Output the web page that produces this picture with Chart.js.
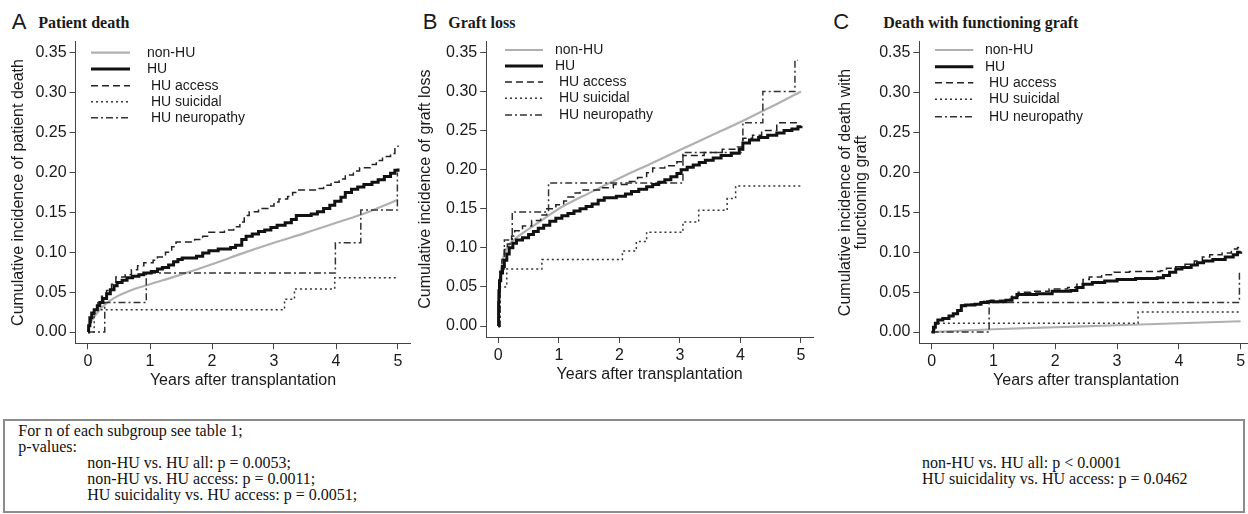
<!DOCTYPE html>
<html>
<head>
<meta charset="utf-8">
<script src="https://cdn.jsdelivr.net/npm/chart.js@4.4.1/dist/chart.umd.min.js"></script>
<style>
  html, body { margin: 0; padding: 0; background: #fff; width: 1248px; height: 514px; overflow: hidden; }
  canvas { position: absolute; top: 0; }
  .letter { position: absolute; top: 10.9px; font: 22px/22px "Liberation Sans", Arial, sans-serif; color: #1a1a1a; }
  .title { position: absolute; top: 15.1px; font: bold 16px/16px "Liberation Serif", "Times New Roman", serif; color: #1a1a1a; white-space: nowrap; }
  #notes {
    position: absolute; left: 3px; top: 419px; width: 1242px; height: 94px; box-sizing: border-box;
    border: 2px solid #8c8c8c; padding: 2.3px 0 0 13.3px;
    font: 16px/16px "Liberation Serif", "Times New Roman", serif; color: #111; white-space: nowrap;
  }
  #notes .ind { margin-left: 69px; }
  #notesRight { position: absolute; left: 917px; top: 34.3px; }
</style>
</head>
<body>
<div class="letter" style="left:11.7px">A</div><div class="title" style="left:38.3px">Patient death</div>
<div class="letter" style="left:422.7px">B</div><div class="title" style="left:448.3px">Graft loss</div>
<div class="letter" style="left:833.3px">C</div><div class="title" style="left:883.3px">Death with functioning graft</div>

<canvas id="chartA" width="416" height="400" style="left:0px"></canvas>
<canvas id="chartB" width="410" height="400" style="left:410px"></canvas>
<canvas id="chartC" width="440" height="400" style="left:820px"></canvas>

<div id="notes">
  <div>For n of each subgroup see table 1;</div>
  <div>p-values:</div>
  <div class="ind">non-HU vs. HU all: p = 0.0053;</div>
  <div class="ind">non-HU vs. HU access: p = 0.0011;</div>
  <div class="ind">HU suicidality vs. HU access: p = 0.0051;</div>
  <div id="notesRight">
    <div>non-HU vs. HU all: p &lt; 0.0001</div>
    <div>HU suicidality vs. HU access: p = 0.0462</div>
  </div>
</div>

<script>
// series labels, same for every panel
const LABELS = ['non-HU', 'HU', ' HU access', ' HU suicidal', ' HU neuropathy'];

// [years, cumulative incidence]
// A - patient death
const A_NONHU = [[0,0],[0.02,0.008],[0.05,0.013],[0.1,0.019],[0.2,0.029],[0.35,0.039],[0.5,0.046],[0.75,0.054],[1,0.06],[1.5,0.072],[2,0.085],[2.5,0.099],[3,0.112],[3.5,0.124],[4,0.137],[4.5,0.15],[5,0.166]];
const A_HU = [[0,0],[0.01,0.008],[0.03,0.018],[0.06,0.024],[0.1,0.028],[0.15,0.033],[0.19,0.037],[0.24,0.042],[0.3,0.048],[0.36,0.053],[0.42,0.058],[0.47,0.062],[0.55,0.065],[0.63,0.068],[0.72,0.07],[0.82,0.072],[0.9,0.074],[1.02,0.076],[1.12,0.079],[1.2,0.081],[1.3,0.084],[1.38,0.088],[1.45,0.091],[1.52,0.093],[1.75,0.095],[1.85,0.099],[1.95,0.102],[2.1,0.104],[2.3,0.106],[2.38,0.109],[2.48,0.116],[2.55,0.12],[2.65,0.123],[2.75,0.126],[2.85,0.128],[2.95,0.131],[3.05,0.134],[3.18,0.137],[3.28,0.141],[3.36,0.146],[3.6,0.148],[3.7,0.151],[3.8,0.155],[3.9,0.159],[3.98,0.164],[4.08,0.169],[4.15,0.175],[4.25,0.179],[4.35,0.182],[4.45,0.185],[4.58,0.188],[4.68,0.191],[4.78,0.195],[4.88,0.199],[4.95,0.203],[5,0.205]];
const A_ACCESS = [[0,0],[0.02,0.012],[0.05,0.022],[0.1,0.03],[0.16,0.038],[0.22,0.045],[0.3,0.052],[0.38,0.06],[0.45,0.069],[0.6,0.072],[0.7,0.078],[0.8,0.083],[0.9,0.087],[1.05,0.09],[1.12,0.094],[1.25,0.1],[1.35,0.107],[1.42,0.113],[1.72,0.116],[1.85,0.12],[1.95,0.125],[2.2,0.128],[2.35,0.132],[2.45,0.138],[2.52,0.146],[2.6,0.151],[2.75,0.155],[2.9,0.158],[3,0.163],[3.08,0.167],[3.22,0.17],[3.3,0.175],[3.4,0.178],[3.7,0.18],[3.8,0.184],[3.92,0.188],[4.05,0.192],[4.15,0.197],[4.28,0.202],[4.38,0.206],[4.55,0.21],[4.65,0.215],[4.75,0.22],[4.88,0.224],[4.95,0.23],[5,0.234]];
const A_SUICIDAL = [[0,0],[0.1,0.028],[3.17,0.041],[3.33,0.054],[3.98,0.068],[4.97,0.068]];
const A_NEURO = [[0,0],[0.27,0.037],[0.94,0.074],[3.99,0.112],[4.4,0.153],[4.99,0.2]];

// B - graft loss
const B_NONHU = [[0,0],[0.005,0.03],[0.02,0.055],[0.05,0.075],[0.1,0.092],[0.2,0.106],[0.3,0.113],[0.5,0.124],[0.75,0.137],[1,0.15],[1.5,0.17],[2,0.189],[2.5,0.207],[3,0.225],[3.5,0.243],[4,0.261],[4.5,0.28],[5,0.3]];
const B_HU = [[0,0],[0.005,0.03],[0.01,0.045],[0.02,0.058],[0.04,0.068],[0.07,0.076],[0.1,0.084],[0.14,0.092],[0.18,0.1],[0.24,0.106],[0.3,0.11],[0.4,0.113],[0.5,0.117],[0.58,0.121],[0.66,0.125],[0.75,0.129],[0.85,0.134],[0.95,0.138],[1.05,0.141],[1.15,0.144],[1.25,0.147],[1.35,0.15],[1.45,0.153],[1.55,0.156],[1.65,0.161],[1.75,0.164],[1.95,0.166],[2.1,0.169],[2.2,0.172],[2.32,0.175],[2.45,0.178],[2.55,0.181],[2.65,0.184],[2.75,0.187],[2.85,0.191],[2.95,0.195],[3.02,0.2],[3.12,0.203],[3.22,0.206],[3.32,0.209],[3.42,0.212],[3.55,0.215],[3.68,0.218],[3.85,0.221],[3.98,0.226],[4.04,0.234],[4.15,0.238],[4.3,0.241],[4.45,0.244],[4.6,0.247],[4.72,0.25],[4.85,0.252],[4.95,0.255],[5,0.256]];
const B_ACCESS = [[0,0],[0.01,0.05],[0.03,0.07],[0.06,0.085],[0.1,0.098],[0.15,0.105],[0.22,0.115],[0.27,0.122],[0.4,0.128],[0.55,0.135],[0.7,0.142],[0.8,0.15],[0.95,0.155],[1.08,0.16],[1.15,0.165],[1.25,0.17],[1.35,0.174],[1.7,0.177],[1.9,0.181],[2.15,0.185],[2.3,0.19],[2.45,0.196],[2.55,0.202],[2.75,0.205],[2.95,0.21],[3.05,0.218],[3.4,0.222],[3.7,0.226],[3.95,0.229],[4.04,0.24],[4.2,0.244],[4.35,0.25],[4.6,0.26],[5,0.26]];
const B_SUICIDAL = [[0,0],[0.03,0.05],[0.14,0.073],[0.72,0.085],[2.05,0.096],[2.28,0.108],[2.45,0.12],[3.05,0.133],[3.31,0.148],[3.78,0.163],[3.92,0.179],[5,0.179]];
const B_NEURO = [[0,0],[0.03,0.073],[0.1,0.11],[0.23,0.146],[0.83,0.183],[3.05,0.222],[4.04,0.26],[4.37,0.3],[4.9,0.34],[4.95,0.34]];

// C - death with functioning graft
const C_NONHU = [[0,0],[0.5,0.0018],[1,0.0035],[2,0.006],[3,0.0085],[4,0.011],[5,0.0135]];
const C_HU = [[0,0],[0.03,0.006],[0.06,0.011],[0.1,0.015],[0.18,0.017],[0.28,0.02],[0.35,0.023],[0.42,0.027],[0.48,0.033],[0.55,0.034],[0.7,0.035],[0.8,0.037],[0.9,0.038],[1.2,0.04],[1.3,0.043],[1.38,0.047],[1.7,0.048],[1.95,0.051],[2.25,0.052],[2.35,0.056],[2.45,0.06],[2.6,0.062],[2.8,0.064],[3,0.066],[3.3,0.067],[3.65,0.068],[3.75,0.071],[3.85,0.075],[3.95,0.079],[4.05,0.081],[4.2,0.084],[4.3,0.087],[4.4,0.089],[4.55,0.091],[4.75,0.094],[4.88,0.097],[4.95,0.1],[5,0.101]];
const C_ACCESS = [[0,0],[0.03,0.006],[0.06,0.011],[0.1,0.015],[0.18,0.017],[0.28,0.02],[0.35,0.023],[0.42,0.028],[0.48,0.034],[0.6,0.035],[0.75,0.037],[0.85,0.039],[0.95,0.04],[1.2,0.041],[1.3,0.045],[1.4,0.05],[1.6,0.051],[1.9,0.054],[2.2,0.056],[2.35,0.06],[2.45,0.066],[2.55,0.069],[2.75,0.072],[2.95,0.075],[3.2,0.076],[3.7,0.077],[3.8,0.08],[3.95,0.082],[4.1,0.085],[4.25,0.089],[4.38,0.094],[4.5,0.097],[4.7,0.099],[4.85,0.104],[4.95,0.106],[5,0.106]];
const C_SUICIDAL = [[0,0],[0.05,0.011],[3.34,0.025],[5,0.025]];
const C_NEURO = [[0,0],[0.93,0.037],[4.98,0.076]];

const TEXT = '#1a1a1a';
const AXIS = '#444';
Chart.defaults.font.family = '"Liberation Sans", Arial, sans-serif';

const STYLES = [
    { borderColor: '#b0b0b0', borderWidth: 2.2, borderDash: [], stepped: false, cubicInterpolationMode: 'monotone', order: 3 },
    { borderColor: '#111', borderWidth: 3, borderDash: [], stepped: 'before', order: 0 },
    { borderColor: '#222', borderWidth: 1.5, borderDash: [7, 4], stepped: 'before', order: 1 },
    { borderColor: '#333', borderWidth: 1.5, borderDash: [2, 3], stepped: 'before', order: 2 },
    { borderColor: '#333', borderWidth: 1.5, borderDash: [7, 3, 2, 3], stepped: 'before', order: 2 }
];

// legend drawn inside the plot, R style
const innerLegend = {
    id: 'innerLegend',
    afterDatasetsDraw(chart, args, opts) {
        const ctx = chart.ctx;
        ctx.save();
        ctx.font = '14px "Liberation Sans", Arial, sans-serif';
        ctx.textBaseline = 'middle';
        ctx.fillStyle = TEXT;
        chart.data.datasets.forEach((ds, i) => {
            const y = opts.rows[i];
            ctx.beginPath();
            ctx.setLineDash(ds.borderDash);
            ctx.lineWidth = ds.borderWidth;
            ctx.strokeStyle = ds.borderColor;
            ctx.moveTo(opts.x0, y);
            ctx.lineTo(opts.x1, y);
            ctx.stroke();
            ctx.fillText(ds.label, opts.textX, y);
        });
        ctx.restore();
    }
};

function makeChart(id, seriesList, yTitle, p) {
    const datasets = seriesList.map((pts, i) => Object.assign({
        label: LABELS[i],
        data: pts.map(d => ({ x: d[0], y: d[1] })),
        pointRadius: 0,
        fill: false
    }, STYLES[i]));

    return new Chart(document.getElementById(id), {
        type: 'line',
        data: { datasets },
        plugins: [innerLegend],
        options: {
            responsive: false,
            animation: false,
            events: [],
            layout: { autoPadding: false, padding: { top: p.top, right: p.right, bottom: 0, left: 0 } },
            plugins: {
                legend: { display: false },
                tooltip: { enabled: false },
                innerLegend: p.legend
            },
            scales: {
                x: {
                    type: 'linear', min: -0.2, max: 5.2,
                    ticks: { stepSize: 1, includeBounds: false, padding: p.xTickPad, color: TEXT, font: { size: 16 }, maxRotation: 0, autoSkip: false },
                    grid: { display: true, drawOnChartArea: false, drawTicks: true, tickLength: 6, color: AXIS, lineWidth: 1 },
                    border: { display: true, color: AXIS, width: 1 },
                    title: { display: true, text: 'Years after transplantation', color: TEXT, font: { size: 16 }, padding: { top: 0, bottom: p.xTitlePad } },
                    afterFit(s) { s.height = p.xHeight; }
                },
                y: {
                    type: 'linear', min: -0.014, max: 0.364,
                    ticks: { stepSize: 0.05, includeBounds: false, padding: 3, color: TEXT, font: { size: 16 }, callback: v => v.toFixed(2) },
                    grid: { display: true, drawOnChartArea: false, drawTicks: true, tickLength: 6, color: AXIS, lineWidth: 1 },
                    border: { display: true, color: AXIS, width: 1 },
                    title: { display: true, text: yTitle, color: TEXT, font: { size: 16, lineHeight: p.yTitleLh }, padding: { top: p.yTitlePad, bottom: 0 } },
                    afterFit(s) { s.width = p.yWidth; }
                }
            }
        }
    });
}

makeChart('chartA', [A_NONHU, A_HU, A_ACCESS, A_SUICIDAL, A_NEURO], 'Cumulative incidence of patient death', {
    top: 41.8, right: 5.6, yWidth: 75.6, xHeight: 56.8, xTickPad: 2.4, xTitlePad: 9.9, yTitlePad: 8.9, yTitleLh: 1.2,
    legend: { x0: 91, x1: 130, textX: 147, rows: [52.7, 69, 85.8, 101.7, 117.7] }
});
makeChart('chartB', [B_NONHU, B_HU, B_ACCESS, B_SUICIDAL, B_NEURO], 'Cumulative incidence of graft loss', {
    top: 41.4, right: 6.9, yWidth: 76.2, xHeight: 63, xTickPad: 2.6, xTitlePad: 15.9, yTitlePad: 5.6, yTitleLh: 1.2,
    legend: { x0: 95, x1: 133, textX: 145, rows: [50, 66, 82, 98.3, 115] }
});
makeChart('chartC', [C_NONHU, C_HU, C_ACCESS, C_SUICIDAL, C_NEURO], ['Cumulative incidence of death with', 'functioning graft'], {
    top: 41.8, right: 7, yWidth: 99.3, xHeight: 56.8, xTickPad: 2.4, xTitlePad: 9.4, yTitlePad: 17.5, yTitleLh: 1.0,
    legend: { x0: 115, x1: 153.3, textX: 165, rows: [50, 66.7, 82.7, 99.3, 116.7] }
});
</script>
</body>
</html>
